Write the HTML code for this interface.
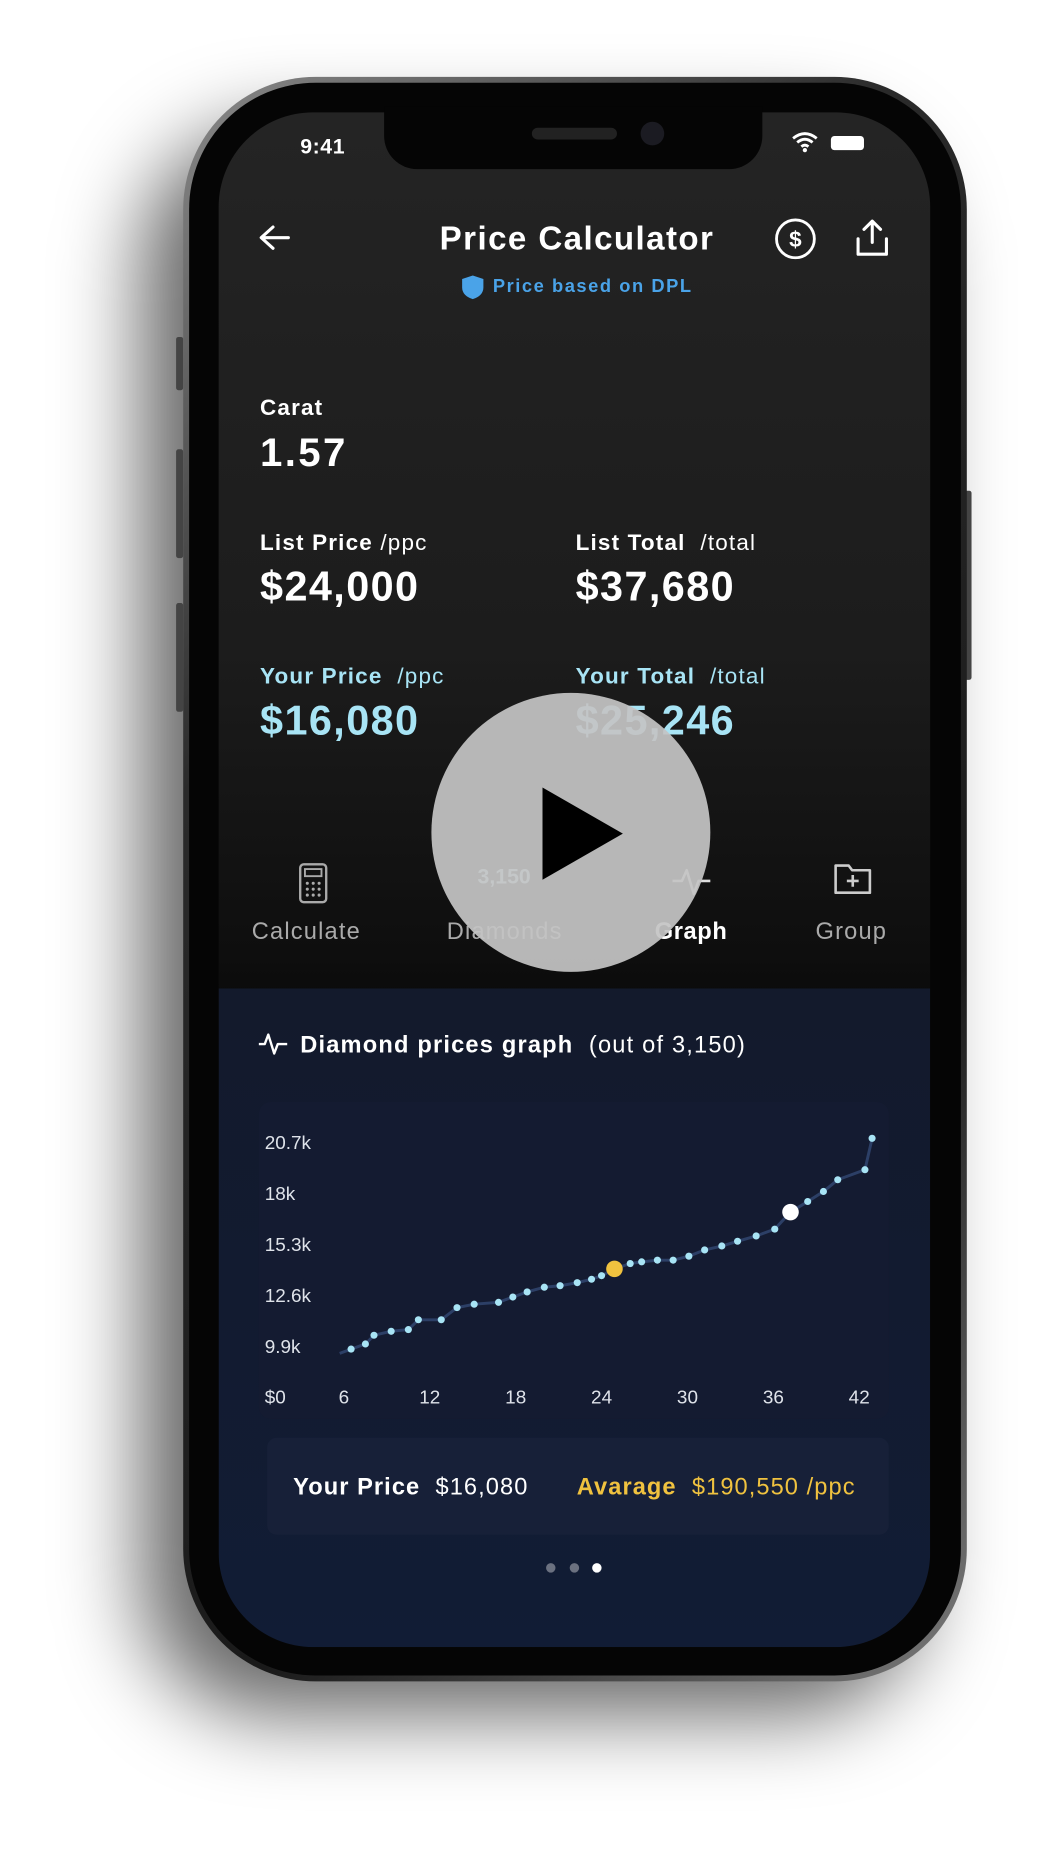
<!DOCTYPE html>
<html><head><meta charset="utf-8">
<style>
html,body{margin:0;padding:0;background:#fff;width:1059px;height:1854px;overflow:hidden;font-family:"Liberation Sans",sans-serif;}
#wrap{position:absolute;left:0;top:0;width:896px;height:1568px;transform:scale(1.18192,1.18240);transform-origin:0 0;}
.abs{position:absolute;}
.t{position:absolute;white-space:nowrap;line-height:1;}
</style></head><body>
<div id="wrap">
 <div class="abs" style="left:120px;top:110px;width:660px;height:1340px;border-radius:110px;background:rgba(0,0,0,0.6);filter:blur(35px);"></div>
 <div class="abs" style="left:149px;top:285px;width:6px;height:45px;background:#444;border-radius:2px"></div>
 <div class="abs" style="left:149px;top:380px;width:6px;height:92px;background:#444;border-radius:2px"></div>
 <div class="abs" style="left:149px;top:510px;width:6px;height:92px;background:#444;border-radius:2px"></div>
 <div class="abs" style="left:816px;top:415px;width:6px;height:160px;background:#444;border-radius:2px"></div>
 <div class="abs" style="left:155px;top:65px;width:663px;height:1357px;border-radius:112px;background:linear-gradient(135deg,#8a8a8a,#2a2a2a 30%,#1a1a1a 70%,#7a7a7a);"></div>
 <div class="abs" style="left:160px;top:70px;width:653px;height:1347px;border-radius:107px;background:#050505;"></div>
 <div class="abs" style="left:185px;top:95px;width:602px;height:1298px;border-radius:80px;overflow:hidden;background:linear-gradient(180deg,#242424 0%,#1c1c1c 35%,#0e0e0e 55%,#050505 62%);">
  <div class="abs" style="left:0;top:741px;width:602px;height:557px;background:linear-gradient(180deg,#131a2c,#111c35);"></div>
 </div>
 <div class="abs" style="left:325px;top:90px;width:320px;height:53px;background:#050505;border-radius:0 0 28px 28px;"></div>
 <div class="abs" style="left:450px;top:108px;width:72px;height:10px;background:#222;border-radius:5px"></div>
 <div class="abs" style="left:542px;top:103px;width:20px;height:20px;background:#1b1b22;border-radius:50%"></div>
 <div class="t" style="left:254px;top:115px;color:#fff;font-size:18px;font-weight:bold;letter-spacing:0.5px">9:41</div>
 <svg class="abs" style="left:669px;top:111px" width="24" height="18" viewBox="0 0 24 18"><path d="M2 6 Q12 -2 22 6 M5.5 9.5 Q12 4 18.5 9.5 M9 13 Q12 10.5 15 13" stroke="#fff" stroke-width="2.4" fill="none"/><circle cx="12" cy="16" r="1.8" fill="#fff"/></svg>
 <div class="abs" style="left:703px;top:115px;width:28px;height:12px;background:#fff;border-radius:3px"></div>
 <svg class="abs" style="left:218px;top:189px" width="28" height="24" viewBox="0 0 28 24"><path d="M26 12 H4 M13 3 L3 12 L13 21" stroke="#fff" stroke-width="2.6" fill="none" stroke-linecap="round" stroke-linejoin="round"/></svg>
 <div class="t" style="left:372px;top:188px;color:#fff;font-size:28px;font-weight:bold;letter-spacing:1.2px">Price Calculator</div>
 <svg class="abs" style="left:655px;top:184px" width="36" height="36"><circle cx="18" cy="18" r="16" stroke="#fff" stroke-width="2.4" fill="none"/><text x="18" y="25" text-anchor="middle" fill="#fff" font-size="19" font-family="Liberation Sans" font-weight="bold">$</text></svg>
 <svg class="abs" style="left:722px;top:184px" width="32" height="34"><path d="M16 3 V21 M9 10 L16 3 L23 10 M4 18 V31 H28 V18" stroke="#fff" stroke-width="2.6" fill="none" stroke-linecap="round" stroke-linejoin="round"/></svg>
 <svg class="abs" style="left:390px;top:232px" width="20" height="22"><path d="M10 1 L19 4 V11 Q19 18 10 21 Q1 18 1 11 V4 Z" fill="#4aa3e8"/></svg>
 <div class="t" style="left:417px;top:235px;color:#4aa3e8;font-size:15.5px;font-weight:bold;letter-spacing:1.3px">Price based on DPL</div>

 <div class="t" style="left:220px;top:336px;color:#fff;font-size:19px;font-weight:bold;letter-spacing:1px">Carat</div>
 <div class="t" style="left:220px;top:366px;color:#fff;font-size:34px;font-weight:bold;letter-spacing:2px">1.57</div>
 <div class="t" style="left:220px;top:450px;color:#fff;font-size:19px;letter-spacing:1px"><b>List Price</b> /ppc</div>
 <div class="t" style="left:220px;top:479px;color:#fff;font-size:35px;font-weight:bold;letter-spacing:1.2px">$24,000</div>
 <div class="t" style="left:487px;top:450px;color:#fff;font-size:19px;letter-spacing:1px"><b>List Total</b>&nbsp; /total</div>
 <div class="t" style="left:487px;top:479px;color:#fff;font-size:35px;font-weight:bold;letter-spacing:1.2px">$37,680</div>
 <div class="t" style="left:220px;top:563px;color:#a8e4f5;font-size:19px;letter-spacing:1px"><b>Your Price</b>&nbsp; /ppc</div>
 <div class="t" style="left:220px;top:592px;color:#a8e4f5;font-size:35px;font-weight:bold;letter-spacing:1.2px">$16,080</div>
 <div class="t" style="left:487px;top:563px;color:#a8e4f5;font-size:19px;letter-spacing:1px"><b>Your Total</b>&nbsp; /total</div>
 <div class="t" style="left:487px;top:592px;color:#a8e4f5;font-size:35px;font-weight:bold;letter-spacing:1.2px">$25,246</div>

 <svg class="abs" style="left:252px;top:729px" width="26" height="36"><rect x="2" y="2" width="22" height="32" rx="3" stroke="#aaa" stroke-width="2" fill="none"/><rect x="6" y="6" width="14" height="6" stroke="#aaa" stroke-width="1.6" fill="none"/><g fill="#aaa"><circle cx="8" cy="18" r="1.3"/><circle cx="13" cy="18" r="1.3"/><circle cx="18" cy="18" r="1.3"/><circle cx="8" cy="23" r="1.3"/><circle cx="13" cy="23" r="1.3"/><circle cx="18" cy="23" r="1.3"/><circle cx="8" cy="28" r="1.3"/><circle cx="13" cy="28" r="1.3"/><circle cx="18" cy="28" r="1.3"/></g></svg>
 <div class="t" style="left:213px;top:778px;color:#aaa;font-size:20px;letter-spacing:1px">Calculate</div>
 <div class="t" style="left:404px;top:732px;color:#bfe9f7;font-size:18px;font-weight:bold">3,150</div>
 <div class="t" style="left:378px;top:778px;color:#aaa;font-size:20px;letter-spacing:1px">Diamonds</div>
 <svg class="abs" style="left:568px;top:732px" width="36" height="28"><path d="M1 13 H9 L13 4 L19 24 L23 13 H33" stroke="#ddd" stroke-width="2.2" fill="none" stroke-linejoin="round"/></svg>
 <div class="t" style="left:554px;top:778px;color:#fff;font-size:20px;font-weight:bold;letter-spacing:0.5px">Graph</div>
 <svg class="abs" style="left:705px;top:728px" width="34" height="30"><path d="M2 4 H13 L16 8 H31 V27 H2 Z" stroke="#ccc" stroke-width="2.2" fill="none" stroke-linejoin="round"/><path d="M16.5 12 V22 M11.5 17 H21.5" stroke="#ccc" stroke-width="2.2"/></svg>
 <div class="t" style="left:690px;top:778px;color:#aaa;font-size:20px;letter-spacing:1px">Group</div>

 <div class="abs" style="left:365px;top:586px;width:236px;height:236px;border-radius:50%;background:rgba(196,196,196,0.93);">
  <svg class="abs" style="left:92px;top:78px" width="72" height="82"><path d="M2 2 L70 41 L2 80 Z" fill="#000"/></svg>
 </div>

 <svg class="abs" style="left:218px;top:872px" width="26" height="22"><path d="M1 11 H6 L9 3 L14 19 L17 11 H25" stroke="#fff" stroke-width="2" fill="none" stroke-linejoin="round"/></svg>
 <div class="t" style="left:254px;top:874px;color:#fff;font-size:20px;letter-spacing:1px"><b>Diamond prices graph</b>&nbsp; (out of 3,150)</div>
 <div class="abs" style="left:219px;top:932px;width:533px;height:268px;border-radius:10px;background:#141b31;"></div>
 <svg id="chart" class="abs" style="left:0;top:0" width="896" height="1568"></svg>

 <div class="abs" style="left:226px;top:1216px;width:526px;height:82px;border-radius:8px;background:#172038;"></div>
 <div class="t" style="left:248px;top:1248px;color:#fff;font-size:20px;letter-spacing:0.9px"><b>Your Price</b>&nbsp; $16,080</div>
 <div class="t" style="left:488px;top:1248px;color:#f0c23f;font-size:20px;letter-spacing:0.9px"><b>Avarage</b>&nbsp; $190,550 /ppc</div>
 <div class="abs" style="left:462px;top:1322px;width:8px;height:8px;border-radius:50%;background:#6b7180"></div>
 <div class="abs" style="left:482px;top:1322px;width:8px;height:8px;border-radius:50%;background:#6b7180"></div>
 <div class="abs" style="left:501px;top:1322px;width:8px;height:8px;border-radius:50%;background:#fff"></div>
</div>
<script>
const xValues = [5.7,6.5,7.5,8.1,9.3,10.5,11.2,12.8,13.9,15.1,16.8,17.8,18.8,20.0,21.1,22.3,23.3,24.0,24.9,26.0,26.8,27.9,29.0,30.1,31.2,32.4,33.5,34.8,36.1,37.2,38.4,39.5,40.5,42.4,42.9];
const priceValues = [9510,9740,10010,10470,10680,10770,11290,11290,11930,12110,12210,12490,12760,13010,13090,13250,13430,13620,13980,14260,14350,14440,14440,14650,14980,15190,15440,15720,16080,16980,17540,18070,18690,19220,20880];
const yTickValues = [9900,12600,15300,18000,20700];
const yTickLabels = ["9.9k","12.6k","15.3k","18k","20.7k"];
const xTickValues = [6,12,18,24,30,36,42];
const yourPriceIndex = 18;
const highlightIndex = 29;

const NS='http://www.w3.org/2000/svg';
const svg=document.getElementById('chart');
function xs(v){return 291+(v-6)*12.11;}
function ys(v){return 1138.4-(v-9900)/2700*43.2;}
function mk(tag,attrs){const e=document.createElementNS(NS,tag);for(const k in attrs)e.setAttribute(k,attrs[k]);svg.appendChild(e);return e;}
yTickValues.forEach((v,i)=>{
  const t=mk('text',{x:224,y:ys(v)+6,fill:'#dfe3ea','font-size':16,'font-family':'Liberation Sans'});
  t.textContent=yTickLabels[i];
  
  
});
const z=mk('text',{x:224,y:1187,fill:'#dfe3ea','font-size':16,'font-family':'Liberation Sans'});
z.textContent='$0';


xTickValues.forEach(v=>{
  const t=mk('text',{x:xs(v),y:1187,fill:'#dfe3ea','font-size':16,'font-family':'Liberation Sans','text-anchor':'middle'});
  t.textContent=String(v);
  
  
});
const d=xValues.map((x,i)=>(i?'L':'M')+xs(x).toFixed(1)+' '+ys(priceValues[i]).toFixed(1)).join(' ');
const line=mk('path',{d:d,stroke:'#2c3f66',"stroke-width":2.5,fill:'none'});


xValues.forEach((x,i)=>{
  if(i===0)return;
  let r=3,fill='#a8e4f5';
  if(i===yourPriceIndex){r=7;fill='#f0c23f';}
  if(i===highlightIndex){r=7;fill='#ffffff';}
  const c=mk('circle',{cx:xs(x),cy:ys(priceValues[i]),r:r,fill:fill});
  
  
});
</script>
</body></html>
